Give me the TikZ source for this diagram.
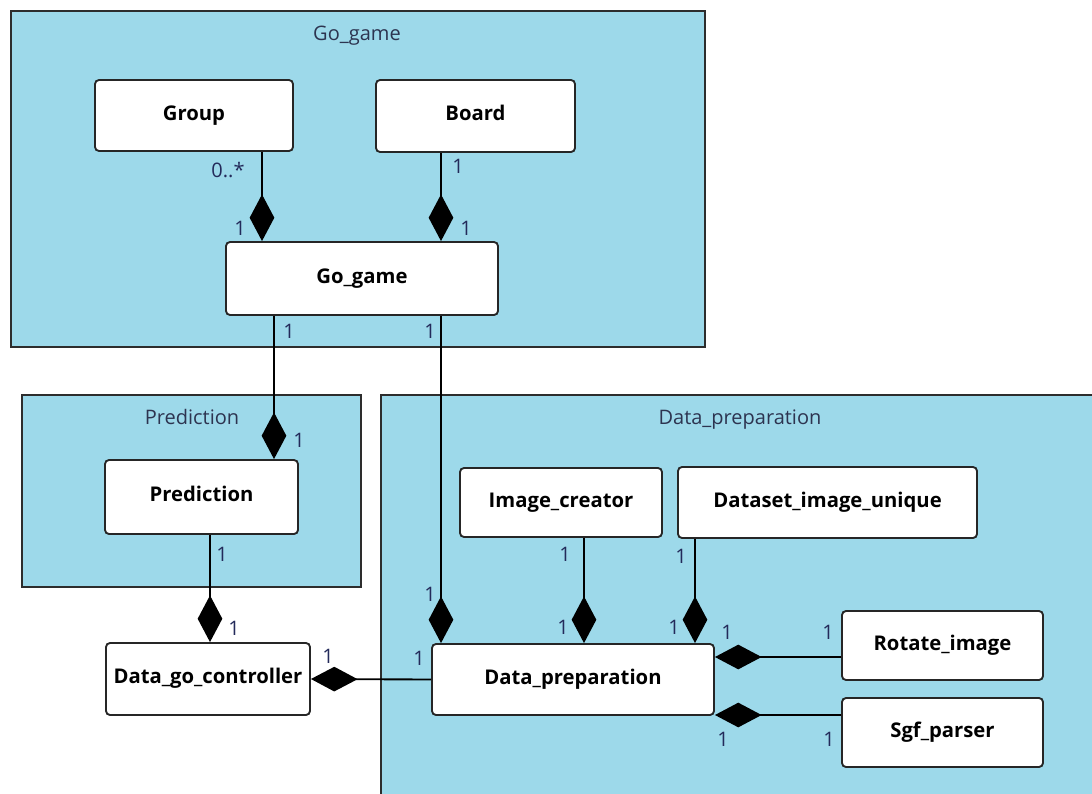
\documentclass[tikz,border=0pt]{standalone}
\usepackage{fontspec}
\setmainfont{Open Sans}
\usetikzlibrary{arrows.meta}
\newcommand\pxl{*0.75pt}
\definecolor{pkgfill}{RGB}{157,217,234}
\definecolor{pkgline}{RGB}{45,45,45}
\definecolor{multcol}{RGB}{35,42,90}
\definecolor{titlecol}{RGB}{45,52,80}
\tikzset{
  pkg/.style={draw=pkgline, fill=pkgfill, line width=1.4pt},
  pkgtitle/.style={font=\fontsize{15}{18}\selectfont, text=titlecol, inner sep=0pt,
    text height=10.5pt, text depth=3.5pt},
  cls/.style={draw=black!85, fill=white, line width=1.4pt, rounded corners=3pt,
    font=\bfseries\fontsize{15.2}{18}\selectfont, inner sep=0pt,
    text height=10.5pt, text depth=3.5pt},
  comp/.style={line width=1.4pt, -{Diamond[length=35pt,width=18.5pt]}},
  mult/.style={font=\fontsize{15}{18}\selectfont, text=multcol, inner sep=0pt},
}
\begin{document}
\begin{tikzpicture}[x=0.75pt,y=-0.75pt]
\useasboundingbox (0,0) rectangle (1092,793);
\begin{scope}
\clip (0,0) rectangle (1092,793);
% packages
\draw[pkg] (11,11) rectangle (705,347);
\node[pkgtitle] (tgo) at (357,36) {Go\_game};
\draw[pkg] (22,395) rectangle (361,587);
\node[pkgtitle] (tpred) at (192,420) {Prediction};
\draw[pkg] (381,395) rectangle (1110,810);
\node[pkgtitle] (tdata) at (740,420) {Data\_preparation};
\end{scope}

% classes
\node[cls, minimum width=198\pxl, minimum height=71\pxl] (grp) at (194,115.5) {Group};
\node[cls, minimum width=199\pxl, minimum height=72\pxl] (brd) at (475.5,116) {Board};
\node[cls, minimum width=272\pxl, minimum height=73\pxl] (gg) at (362,278.5) {Go\_game};
\node[cls, minimum width=193\pxl, minimum height=74\pxl] (pred) at (201.5,497) {Prediction};
\node[cls, minimum width=204\pxl, minimum height=72\pxl] (dgc) at (208,679) {Data\_go\_controller};
\node[cls, minimum width=282\pxl, minimum height=71\pxl] (dp) at (573,679.5) {Data\_preparation};
\node[cls, minimum width=202\pxl, minimum height=69\pxl] (ic) at (561,502.5) {Image\_creator};
\node[cls, minimum width=299\pxl, minimum height=71\pxl] (diu) at (827.5,502.5) {Dataset\_image\_unique};
\node[cls, minimum width=201\pxl, minimum height=69\pxl] (rot) at (942.5,645.5) {Rotate\_image};
\node[cls, minimum width=201\pxl, minimum height=69\pxl] (sgf) at (942.5,732.5) {Sgf\_parser};

% compositions
\draw[comp] ([xshift=68\pxl]grp.south) -- ([xshift=-100\pxl]gg.north);
\draw[comp] ([xshift=-34.5\pxl]brd.south) -- ([xshift=79\pxl]gg.north);
\draw[comp] ([xshift=-88\pxl]gg.south) -- ([xshift=72.5\pxl]pred.north);
\draw[comp] ([xshift=79\pxl]gg.south) -- ([xshift=-132\pxl]dp.north);
\draw[comp] ([xshift=8.5\pxl]pred.south) -- ([xshift=2\pxl]dgc.north);
\draw[comp] (dp.west) -- (dgc.east);
\draw[comp] ([xshift=23\pxl]ic.south) -- ([xshift=11\pxl]dp.north);
\draw[comp] ([xshift=-132.5\pxl]diu.south) -- ([xshift=122\pxl]dp.north);
\draw[comp] ([yshift=-11.5\pxl]rot.west) -- ([yshift=22.5\pxl]dp.east);
\draw[comp] ([yshift=17.5\pxl]sgf.west) -- ([yshift=-35.5\pxl]dp.east);

% multiplicities
\node[mult] (m1) at (228,170) {0..*};
\node[mult] (m2) at (240,228) {1};
\node[mult] (m3) at (458,166) {1};
\node[mult] (m4) at (466,228) {1};
\node[mult] (m5) at (289,331) {1};
\node[mult] (m6) at (430,331) {1};
\node[mult] (m7) at (299,440) {1};
\node[mult] (m8) at (222,554) {1};
\node[mult] (m9) at (234,628) {1};
\node[mult] (m10) at (328,656) {1};
\node[mult] (m11) at (419,658) {1};
\node[mult] (m12) at (430,594) {1};
\node[mult] (m13) at (565,554) {1};
\node[mult] (m14) at (563,627) {1};
\node[mult] (m15) at (681,556) {1};
\node[mult] (m16) at (674,627) {1};
\node[mult] (m17) at (727,632) {1};
\node[mult] (m18) at (828,632) {1};
\node[mult] (m19) at (723,739) {1};
\node[mult] (m20) at (829,739) {1};
\end{tikzpicture}
\end{document}
